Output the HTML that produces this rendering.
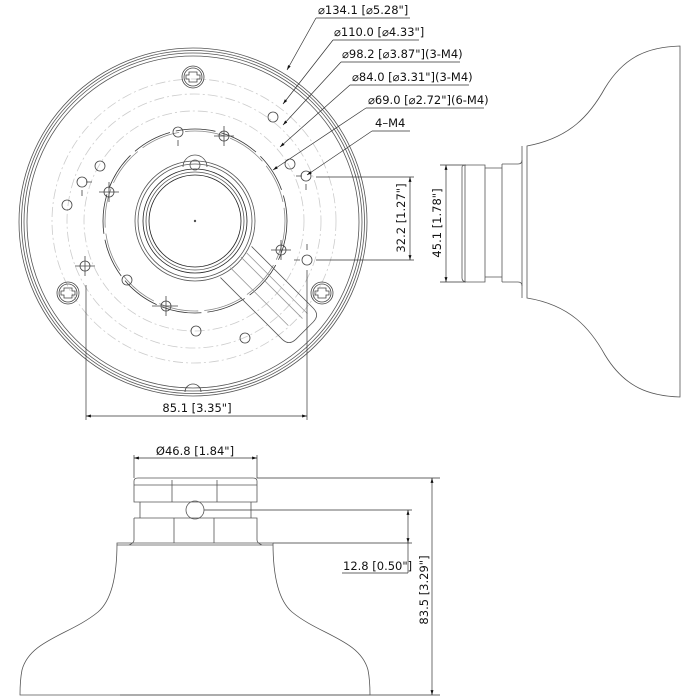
<!DOCTYPE html>
<html><head><meta charset="utf-8"><style>
html,body{margin:0;padding:0;background:#fff}
svg{display:block}
text{font-family:"DejaVu Sans","Liberation Sans",sans-serif;font-size:11.5px;fill:#111}
</style></head><body>
<svg width="700" height="700" viewBox="0 0 700 700" xmlns="http://www.w3.org/2000/svg">
<defs>
<marker id="a" viewBox="0 0 10 10" refX="10" refY="5" markerWidth="7" markerHeight="7" orient="auto-start-reverse"><path d="M0,2 L10,5 L0,8 z" fill="#111"/></marker>
</defs>
<g fill="none" stroke="#555" stroke-width="0.8">
<circle cx="193" cy="222" r="174"/>
<circle cx="193" cy="222" r="171.5"/>
<circle cx="193" cy="222" r="169"/>
<circle cx="193" cy="222" r="166"/>
<g stroke="#ccc" stroke-dasharray="10 3 2 3">
<circle cx="194" cy="221" r="142"/>
<circle cx="194" cy="221" r="127"/>
<circle cx="194" cy="221" r="110"/>
</g>
<circle cx="195" cy="221" r="92" stroke="#333" stroke-dasharray="40 6"/>
<circle cx="195" cy="221" r="90" stroke="#888" stroke-dasharray="40 6"/>
<circle cx="195" cy="221" r="60"/>
<circle cx="195" cy="221" r="57"/>
<circle cx="195" cy="221" r="52" stroke="#222"/>
<circle cx="195" cy="221" r="49"/>
<circle cx="195" cy="221" r="46" stroke="#222"/>
<circle cx="195" cy="221" r="0.8" fill="#111"/>
<path d="M183,167 a12,12 0 0 1 24,0" />
<circle cx="195" cy="165" r="5"/>
<g transform="translate(195,221) rotate(45)">
<path d="M58,-22 L145,-22 Q155,-22 155,-12 L155,12 Q155,22 145,22 L58,22"/>
<path d="M58,-14 L145,-14 M58,-7 L145,-7 M58,8 L140,8" stroke="#999"/>
</g>
<g stroke="#444">
<circle cx="193" cy="77" r="11"/><circle cx="193" cy="77" r="9"/>
<circle cx="68" cy="293" r="11"/><circle cx="68" cy="293" r="9"/>
<circle cx="322" cy="293" r="11"/><circle cx="322" cy="293" r="9"/>
<path d="M189,72h8v3h3v4h-3v3h-8v-3h-3v-4h3z M64,288h8v3h3v4h-3v3h-8v-3h-3v-4h3z M318,288h8v3h3v4h-3v3h-8v-3h-3v-4h3z"/>
<path d="M185,392 a8,8 0 0 1 16,0"/>
</g>
<g stroke="#444">
<circle cx="178" cy="132" r="5"/><circle cx="224" cy="136" r="5"/>
<circle cx="100" cy="166" r="5"/><circle cx="82" cy="182" r="5"/>
<circle cx="109" cy="192" r="5"/><circle cx="67" cy="205" r="5"/>
<circle cx="85" cy="266" r="5"/><circle cx="127" cy="280" r="5"/>
<circle cx="166" cy="306" r="5"/><circle cx="196" cy="331" r="5"/>
<circle cx="245" cy="338" r="5"/><circle cx="273" cy="117" r="5"/>
<circle cx="290" cy="164" r="5"/><circle cx="306" cy="176" r="5"/>
<circle cx="281" cy="250" r="5"/><circle cx="307" cy="260" r="5"/>
<path d="M224,126v20 M214,136h20 M99,192h20 M109,182v20 M75,266h20 M85,256v20 M152,306h26 M166,296v20 M271,250h20 M281,240v20 M178,140v6 M86,182h6 M82,190v6 M296,176h6 M306,184v6 M300,260h-6 M307,250v-6"/>
</g>
<g stroke="#333" stroke-width="0.7">
<line x1="316" y1="18" x2="410" y2="18"/>
<line x1="316" y1="18" x2="287" y2="70" marker-end="url(#a)"/>
<line x1="333" y1="40" x2="419" y2="40"/>
<line x1="333" y1="40" x2="283" y2="104" marker-end="url(#a)"/>
<line x1="341" y1="62" x2="460" y2="62"/>
<line x1="341" y1="62" x2="283" y2="125" marker-end="url(#a)"/>
<line x1="350" y1="85" x2="469" y2="85"/>
<line x1="350" y1="85" x2="280" y2="147" marker-end="url(#a)"/>
<line x1="366" y1="108" x2="484" y2="108"/>
<line x1="366" y1="108" x2="273" y2="170" marker-end="url(#a)"/>
<line x1="372" y1="131" x2="410" y2="131"/>
<line x1="372" y1="131" x2="307" y2="175" marker-end="url(#a)"/>
<line x1="86" y1="285" x2="86" y2="420"/>
<line x1="307" y1="270" x2="307" y2="420"/>
<line x1="86" y1="416" x2="307" y2="416" marker-start="url(#a)" marker-end="url(#a)"/>
<line x1="316" y1="177" x2="414" y2="177"/>
<line x1="316" y1="260" x2="414" y2="260"/>
<line x1="410" y1="177" x2="410" y2="260" marker-start="url(#a)" marker-end="url(#a)"/>
<line x1="440" y1="165" x2="466" y2="165"/>
<line x1="440" y1="282" x2="466" y2="282"/>
<line x1="446" y1="165" x2="446" y2="282" marker-start="url(#a)" marker-end="url(#a)"/>
<line x1="134" y1="455" x2="134" y2="478"/>
<line x1="257" y1="455" x2="257" y2="478"/>
<line x1="134" y1="458" x2="257" y2="458" marker-start="url(#a)" marker-end="url(#a)"/>
<line x1="257" y1="478" x2="440" y2="478"/>
<line x1="120" y1="695" x2="440" y2="695"/>
<line x1="432" y1="478" x2="432" y2="695" marker-start="url(#a)" marker-end="url(#a)"/>
<line x1="204" y1="510" x2="412" y2="510"/>
<line x1="273" y1="543" x2="412" y2="543"/>
<line x1="408" y1="510" x2="408" y2="543" marker-start="url(#a)" marker-end="url(#a)"/>
<line x1="408" y1="543" x2="408" y2="573"/>
<line x1="342" y1="573" x2="408" y2="573"/>
</g>
<g stroke="#555">
<path d="M527,146 C570,138 590,115 605,88 C625,55 650,47 680,46 L680,397 C650,396 625,388 605,355 C590,328 570,305 527,298 Z"/>
<path d="M522,146 V298"/>
<path d="M462,167 Q462,165 467,165 H485 V282 H467 Q462,282 462,278 Z M465,165 V282 M485,168 H502 V277 H485 M502,164 H518 Q522,164 522,160 M502,282 H518 Q522,282 522,286 M502,164 V282"/>
</g>
<g stroke="#555">
<path d="M117,543 C117,575 112,600 98,612 C70,635 30,640 22,670 C20,680 20,690 20,695 L370,695 C370,690 370,680 368,670 C360,640 320,635 292,612 C278,600 273,575 273,543 Z"/>
<path d="M134,481 Q134,478 138,478 H253 Q257,478 257,481 V502 H134 Z M134,485 H257"/>
<path d="M140,502 V518 M251,502 V518 M134,518 H257 V540 Q257,543 262,545 M134,518 V540 Q134,543 129,545 M117,545 H273"/>
<path d="M172,480 V502 M217,480 V502 M174,518 V543 M214,518 V543"/>
<circle cx="195" cy="510" r="9"/>
</g>
</g>
<text x="318" y="14">⌀134.1 [⌀5.28"]</text>
<text x="334" y="36">⌀110.0 [⌀4.33"]</text>
<text x="342" y="58">⌀98.2 [⌀3.87"](3-M4)</text>
<text x="352" y="81">⌀84.0 [⌀3.31"](3-M4)</text>
<text x="368" y="104">⌀69.0 [⌀2.72"](6-M4)</text>
<text x="375" y="127">4–M4</text>
<text x="197" y="412" text-anchor="middle">85.1 [3.35"]</text>
<text transform="translate(405,218) rotate(-90)" text-anchor="middle">32.2 [1.27"]</text>
<text transform="translate(441,223) rotate(-90)" text-anchor="middle">45.1 [1.78"]</text>
<text x="195" y="455" text-anchor="middle">Ø46.8 [1.84"]</text>
<text x="343" y="570">12.8 [0.50"]</text>
<text transform="translate(428,590) rotate(-90)" text-anchor="middle">83.5 [3.29"]</text>
</svg>
</body></html>
